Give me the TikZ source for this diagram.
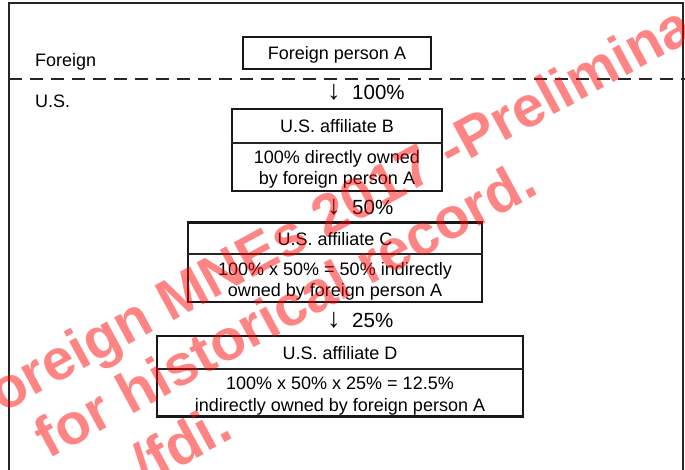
\documentclass[tikz,border=0pt]{standalone}
\usepackage{fontspec}
\setmainfont{Liberation Sans}
\newcommand{\dnarrow}{\makebox[25pt][l]{\fontsize{27}{27}\selectfont ↓}}
\begin{document}
\begin{tikzpicture}[x=1pt,y=-1pt,
  every node/.style={font=\fontsize{18}{21.5}\selectfont, inner sep=0pt},
  lbl/.style={font=\fontsize{20.5}{24}\selectfont, anchor=base west},
  frame/.style={draw=black!85, line width=2pt},
  boxst/.style={draw=black!90, line width=2.4pt},
  divider/.style={draw=black!85, line width=1.1pt},
  wm/.style={font=\fontsize{57.5}{57.5}\selectfont\bfseries, text=red, text opacity=0.48, inner sep=0pt, anchor=base west, rotate=28.4}]
\useasboundingbox (0,0) rectangle (685,469);
\clip (0,0) rectangle (685,469);
\draw[frame] (9,480) -- (9,3) -- (683,3) -- (683,480);
\draw[black!85, line width=2.4pt, dash pattern=on 13pt off 8pt] (9,79) -- (685,79);
\node[anchor=base west] (lf) at (35,66) {Foreign};
\node[anchor=base west] (lus) at (35,107) {U.S.};
% box A
\node[boxst, minimum width=188, minimum height=32] (A) at (337,53) {};
\node[anchor=base] (At) at (337,59.5) {Foreign person A};
% arrow 1
\node[lbl] (a1) at (327,99.5) {\dnarrow 100\%};
% box B
\node[boxst, minimum width=210, minimum height=81.5] (B) at (337,150) {};
\draw[divider] (B.west |- 0,143) -- (B.east |- 0,143);
\node[anchor=base] (Bt) at (337,132) {U.S. affiliate B};
\node[align=center] (Bb) at (337,169.1) {100\% directly owned\\by foreign person A};
% arrow 2
\node[lbl] (a2) at (327,214.5) {\dnarrow 50\%};
% box C
\node[boxst, minimum width=294, minimum height=79.5] (C) at (335,262.3) {};
\draw[divider] (C.west |- 0,254) -- (C.east |- 0,254);
\node[anchor=base] (Ct) at (335,245.7) {U.S. affiliate C};
\node[align=center] (Cb) at (335,281.1) {100\% x 50\% = 50\% indirectly\\owned by foreign person A};
% arrow 3
\node[lbl] (a3) at (327,327) {\dnarrow 25\%};
% box D
\node[boxst, minimum width=366, minimum height=80.5] (D) at (340,376.3) {};
\draw[divider] (D.west |- 0,369) -- (D.east |- 0,369);
\node[anchor=base] (Dt) at (340,359) {U.S. affiliate D};
\node[align=center] (Db) at (340,396.1) {100\% x 50\% x 25\% = 12.5\%\\indirectly owned by foreign person A};
% watermark
\node[wm] (w1) at (-29,430) {Foreign MNEs 2017 -Preliminary};
\node[wm] (w2) at (48.5,459.3) {for historical record.};
\node[wm] (w3) at (145,486) {/fdi.};
\end{tikzpicture}
\end{document}
